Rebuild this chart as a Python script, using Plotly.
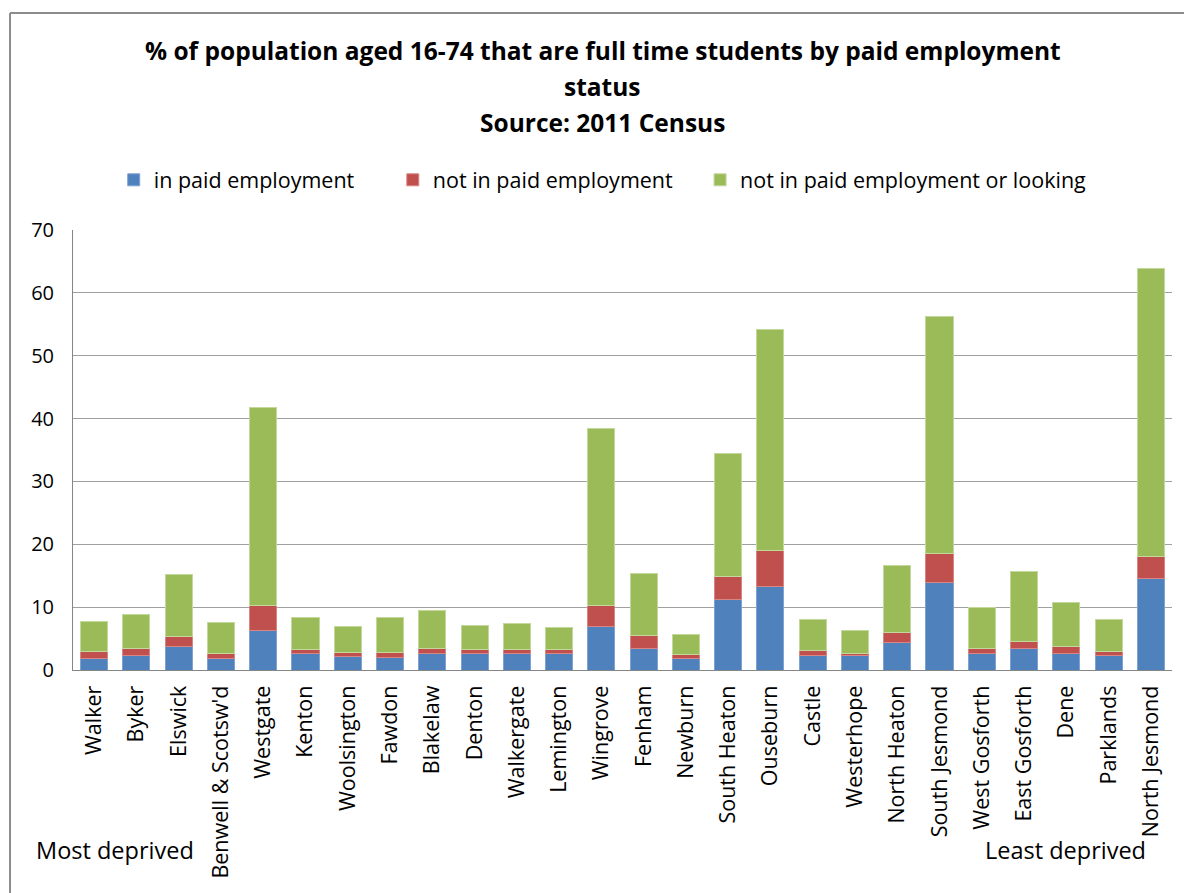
import plotly.graph_objects as go

wards = ["Walker", "Byker", "Elswick", "Benwell & Scotsw'd", "Westgate", "Kenton",
         "Woolsington", "Fawdon", "Blakelaw", "Denton", "Walkergate", "Lemington",
         "Wingrove", "Fenham", "Newburn", "South Heaton", "Ouseburn", "Castle",
         "Westerhope", "North Heaton", "South Jesmond", "West Gosforth",
         "East Gosforth", "Dene", "Parklands", "North Jesmond"]

in_paid = [1.8, 2.3, 3.7, 1.8, 6.3, 2.6, 2.2, 2.0, 2.6, 2.6, 2.6, 2.6,
           6.9, 3.5, 1.8, 11.2, 13.3, 2.3, 2.3, 4.3, 13.9, 2.7, 3.5, 2.7, 2.3, 14.6]
not_paid = [1.2, 1.2, 1.7, 0.8, 3.9, 0.7, 0.6, 0.8, 0.9, 0.6, 0.7, 0.7,
            3.4, 2.0, 0.6, 3.6, 5.7, 0.8, 0.4, 1.7, 4.6, 0.8, 1.0, 1.0, 0.6, 3.4]
not_paid_or_looking = [4.7, 5.3, 9.8, 4.9, 31.5, 5.1, 4.1, 5.5, 6.0, 3.9, 4.1, 3.4,
                       28.1, 9.8, 3.2, 19.6, 35.1, 4.9, 3.6, 10.7, 37.8, 6.5,
                       11.1, 7.0, 5.1, 45.8]

series_names = ["in paid employment", "not in paid employment",
                "not in paid employment or looking"]

# extra non-breaking padding after each legend label widens the gap to the next entry
legend_pad = [6, 4, 0]

series = [
    (series_names[0], in_paid, "#4F81BD", "#7FA3D1"),
    (series_names[1], not_paid, "#C0504D", "#D98583"),
    (series_names[2], not_paid_or_looking, "#9BBB59", "#C3D89C"),
]

FONT = "Open Sans"

fig = go.Figure()
for (name, vals, col, edge), pad in zip(series, legend_pad):
    fig.add_trace(go.Bar(
        x=wards, y=vals, name=name + "\u00a0" * pad,
        marker=dict(color=col, line=dict(color=edge, width=1)),
    ))

title_lines = [
    ("% of population aged 16-74 that are full time students by paid employment", 1.409),
    ("status", 1.327),
    ("Source: 2011 Census", 1.245),
]
annotations = [
    dict(text=f"<b>{t}</b>", x=0.482, y=y, xref="paper", yref="paper",
         xanchor="center", yanchor="middle", showarrow=False,
         font=dict(family=FONT, size=24.5, color="#000000"))
    for t, y in title_lines
]
annotations += [
    dict(text="Most deprived", x=0.0382, y=-0.409, xref="paper", yref="paper",
         xanchor="center", yanchor="middle", showarrow=False,
         font=dict(family=FONT, size=23.5, color="#000000")),
    dict(text="Least deprived", x=0.9027, y=-0.409, xref="paper", yref="paper",
         xanchor="center", yanchor="middle", showarrow=False,
         font=dict(family=FONT, size=23.5, color="#000000")),
]

# chart frame along the left and top edges
shapes = [
    dict(type="line", xref="paper", yref="paper", x0=-0.0573, x1=-0.0573,
         y0=-0.6, y1=1.493, line=dict(color="#8C8C8C", width=2)),
    dict(type="line", xref="paper", yref="paper", x0=-0.0573, x1=1.02,
         y0=1.493, y1=1.493, line=dict(color="#8C8C8C", width=2)),
]

fig.update_layout(
    barmode="stack",
    bargap=0.36,
    width=1184, height=893,
    margin=dict(l=73, r=12, t=230, b=223),
    paper_bgcolor="white", plot_bgcolor="white",
    font=dict(family=FONT, size=20, color="#000000"),
    showlegend=True,
    legend=dict(orientation="h", x=0.482, xanchor="center", y=1.114, yanchor="middle",
                font=dict(family=FONT, size=21.5), itemwidth=30,
                traceorder="normal"),
    annotations=annotations,
    shapes=shapes,
    xaxis=dict(tickangle=-90, showline=True, linecolor="#868686", linewidth=1,
               showgrid=False, ticks="", tickfont=dict(family=FONT, size=21.5),
               ticklabelstandoff=6),
    yaxis=dict(range=[0, 70], dtick=10, showgrid=True, gridcolor="#A0A0A0",
               gridwidth=1, showline=True, linecolor="#868686", linewidth=1,
               zeroline=False, ticks="", tickfont=dict(family=FONT, size=20),
               ticklabelstandoff=14),
)

fig.write_html("out.html")
